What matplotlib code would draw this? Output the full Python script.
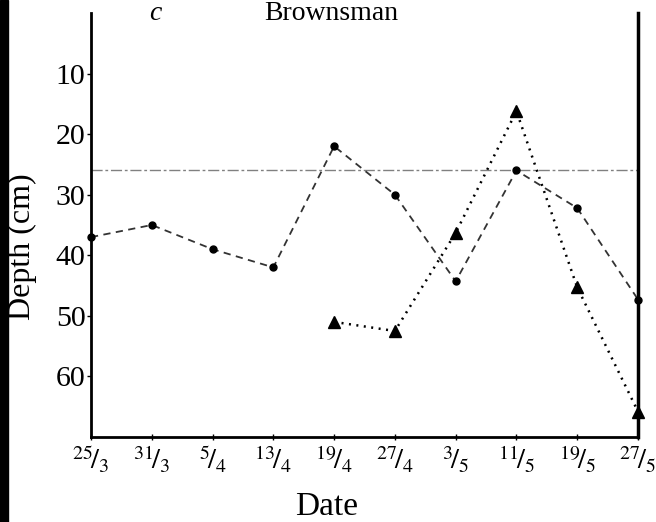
import matplotlib
matplotlib.use("Agg")
import matplotlib.pyplot as plt
from matplotlib.patches import Rectangle

plt.rcParams['font.family'] = ['Liberation Serif', 'DejaVu Serif']
plt.rcParams['mathtext.fontset'] = 'stix'

dates = ["25/3", "31/3", "5/4", "13/4", "19/4", "27/4", "3/5", "11/5", "19/5", "27/5"]
circle_depth = [37, 35, 39, 42, 22, 30, 44.3, 26, 32.2, 47.3]
triangle_dates = ["19/4", "27/4", "3/5", "11/5", "19/5", "27/5"]
triangle_depth = [51, 52.5, 36.3, 16.2, 45.3, 65.8]
ref_depth = 26
yticks = [10, 20, 30, 40, 50, 60]

fig = plt.figure(figsize=(6.56, 5.22), dpi=100)
ax = fig.add_axes([91/656, 1-437/522, (638-91)/656, (437-13)/522])

xpos = {d: i for i, d in enumerate(dates)}
xc = [xpos[d] for d in dates]
xt = [xpos[d] for d in triangle_dates]

ax.axhline(ref_depth, color='#808080', lw=1.0, ls=(0, (8, 2, 2, 2)))
ax.plot(xc, circle_depth, color='#333333', lw=1.3, ls=(0, (4, 3)),
        marker='o', ms=5, mfc='black', mec='black', clip_on=False, zorder=3)
ax.plot(xt, triangle_depth, color='black', lw=1.8, ls=(0, (0.8, 2.2)),
        marker='^', ms=8, mfc='black', mec='black', clip_on=False, zorder=3)

ax.set_xlim(0, len(dates) - 1)
ax.set_ylim(70, 0)
ax.set_yticks(yticks)
ax.set_yticklabels([str(v) for v in yticks], fontsize=21.5)
ax.set_xticks(range(len(dates)))
labels = []
for d in dates:
    a, b = d.split('/')
    labels.append(r"$^{%s}\!/_{%s}$" % (a, b))
ax.set_xticklabels(labels, fontsize=20.5)
ax.tick_params(axis='y', direction='out', length=3, width=1, pad=1)
ax.tick_params(axis='x', direction='inout', length=5, width=1, pad=3)

ax.spines['top'].set_visible(False)
ax.spines['left'].set_linewidth(2)
ax.spines['bottom'].set_linewidth(2)
ax.spines['right'].set_linewidth(2.5)

ax.set_xlabel("Date", fontsize=24)
ax.xaxis.set_label_coords((327-91)/547, -(507-437)/424)
ax.xaxis.label.set_va('center')
ax.set_ylabel("Depth (cm)", fontsize=23)
ax.yaxis.set_label_coords(-(91-22)/547, (437-247)/424)
ax.yaxis.label.set_va('center')
fig.text(155/656, 1 - 1/522, "c", fontsize=20, style='italic',
         ha='center', va='top')
fig.text(331/656, 1 - 1/522, "Brownsman", fontsize=20,
         ha='center', va='top')

fig.patches.append(Rectangle((0, 0), 8/656, 1, transform=fig.transFigure,
                             color='black', zorder=10))

fig.savefig("out.png", dpi=100)
